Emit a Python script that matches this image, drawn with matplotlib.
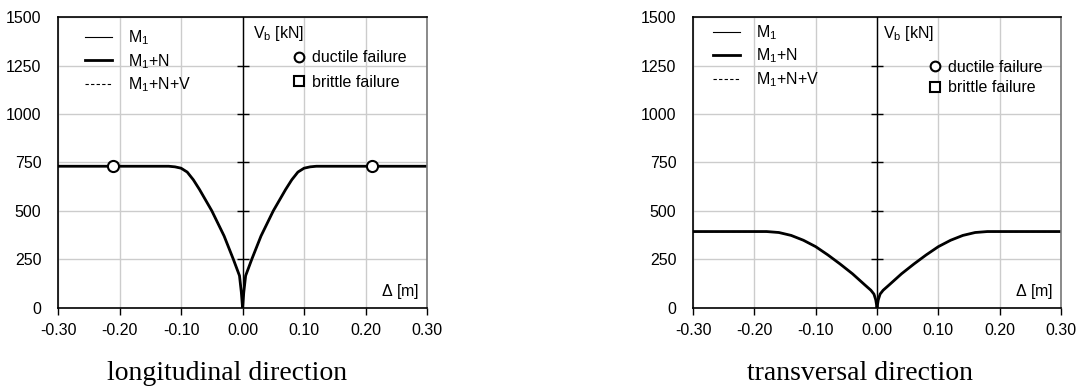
import numpy as np
import matplotlib.pyplot as plt
from matplotlib.lines import Line2D

plt.rcParams['font.family'] = ['Liberation Sans', 'DejaVu Sans']
plt.rcParams['mathtext.fontset'] = 'custom'
plt.rcParams['mathtext.rm'] = 'Liberation Sans'
plt.rcParams['mathtext.it'] = 'Liberation Sans:italic'

# pushover curves, half branch (displacement [m], base shear [kN]); mirrored for negative side
long_d = [0.0, 0.002, 0.005, 0.015, 0.03, 0.05, 0.06, 0.07, 0.08, 0.09, 0.10, 0.11, 0.12, 0.30]
long_v = [0, 80, 165, 250, 370, 500, 555, 610, 660, 700, 720, 727, 730, 730]
trans_d = [0.0, 0.002, 0.005, 0.01, 0.02, 0.04, 0.06, 0.08, 0.10, 0.12, 0.14, 0.16, 0.18, 0.30]
trans_v = [0, 40, 70, 90, 118, 175, 225, 272, 315, 348, 373, 388, 393, 393]

# ductile failure points (longitudinal only)
long_fail_d = [-0.211, 0.211]
long_fail_v = [730, 730]

x_ticks = [-0.30, -0.20, -0.10, 0.00, 0.10, 0.20, 0.30]
y_ticks = [0, 250, 500, 750, 1000, 1250, 1500]
titles = ['longitudinal direction', 'transversal direction']

FS = 11.5


def mirror(d, v):
    d = np.array(d)
    v = np.array(v)
    return np.concatenate([-d[::-1], d[1:]]), np.concatenate([v[::-1], v[1:]])


def draw_panel(ax, d, v, fail_d, fail_v, vb_x, leg1_anchor, leg1_sp, leg2_anchor, leg2_sp):
    xd, yv = mirror(d, v)
    ax.plot(xd, yv, color='black', lw=0.8)
    ax.plot(xd, yv, color='black', lw=0.8, ls=(0, (3, 2)))
    ax.plot(xd, yv, color='black', lw=2.0)
    if fail_d:
        ax.plot(fail_d, fail_v, ls='none', marker='o', ms=8, mfc='white',
                mec='black', mew=1.5, zorder=5)

    ax.set_xlim(-0.3, 0.3)
    ax.set_ylim(0, 1500)
    ax.set_xticks(x_ticks)
    ax.set_xticklabels([f'{t:.2f}' for t in x_ticks])
    ax.set_yticks(y_ticks)
    ax.grid(True, color='#cccccc', lw=1.0)
    ax.set_axisbelow(True)
    ax.tick_params(axis='x', direction='out', length=5, width=1, pad=6, labelsize=FS)
    ax.tick_params(axis='y', length=0, pad=12, labelsize=FS)
    for s in ['left', 'bottom', 'top']:
        ax.spines[s].set_color('black')
        ax.spines[s].set_linewidth(1.2)
    ax.spines['right'].set_color('#777777')
    ax.spines['right'].set_linewidth(1.2)

    # vertical axis through the origin with its own tick marks
    ax.axvline(0, color='black', lw=1.0, zorder=2)
    ax.plot(np.zeros(len(y_ticks) - 2), y_ticks[1:-1], ls='none', marker='_',
            ms=9, mew=1.0, color='black', zorder=2)

    ax.text(vb_x, 0.945, r'V$_{\rm b}$ [kN]', transform=ax.transAxes,
            fontsize=FS, va='center')
    ax.text(0.98, 0.055, r'$\Delta$ [m]', transform=ax.transAxes,
            fontsize=FS, ha='right', va='center')

    h1 = [Line2D([], [], color='black', lw=0.8),
          Line2D([], [], color='black', lw=2.0),
          Line2D([], [], color='black', lw=0.8, ls=(0, (3, 2)))]
    leg1 = ax.legend(h1, [r'M$_{\rm 1}$', r'M$_{\rm 1}$+N', r'M$_{\rm 1}$+N+V'],
                     loc='upper left', bbox_to_anchor=leg1_anchor, frameon=False,
                     fontsize=FS, handlelength=1.7, handletextpad=1.0,
                     labelspacing=leg1_sp, borderaxespad=0, borderpad=0)
    ax.add_artist(leg1)

    h2 = [Line2D([], [], ls='none', marker='o', ms=7, mfc='white', mec='black', mew=1.5),
          Line2D([], [], ls='none', marker='s', ms=7, mfc='white', mec='black', mew=1.5)]
    ax.legend(h2, ['ductile failure', 'brittle failure'], loc='upper left',
              bbox_to_anchor=leg2_anchor, frameon=False, fontsize=FS,
              handlelength=0.8, handletextpad=0.4, labelspacing=leg2_sp,
              borderaxespad=0, borderpad=0)


fig = plt.figure(figsize=(10.79, 3.88), dpi=100)
ax1 = fig.add_axes([0.0538, 0.207, 0.342, 0.749])
ax2 = fig.add_axes([0.6423, 0.207, 0.341, 0.749])

draw_panel(ax1, long_d, long_v, long_fail_d, long_fail_v, 0.528,
           (0.073, 0.961), 0.3, (0.635, 0.885), 0.6)
draw_panel(ax2, trans_d, trans_v, [], [], 0.516,
           (0.054, 0.979), 0.3, (0.64, 0.854), 0.35)

fig.text(227 / 1079, 1 - 373 / 388, titles[0], family='Liberation Serif',
         fontsize=20, ha='center', va='center')
fig.text(860 / 1079, 1 - 373 / 388, titles[1], family='Liberation Serif',
         fontsize=20, ha='center', va='center')

fig.savefig('out.png', dpi=100)
